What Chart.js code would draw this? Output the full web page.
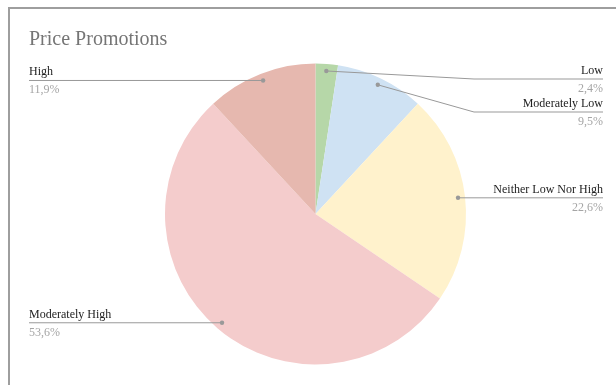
<!DOCTYPE html>
<html>
<head>
<meta charset="utf-8">
<script src="https://cdn.jsdelivr.net/npm/chart.js@4.4.1/dist/chart.umd.min.js"></script>
<style>
  html, body { margin:0; padding:0; background:#fff; overflow:hidden; }
  #wrap { position:relative; width:616px; height:385px; }
  #frame { position:absolute; left:8px; top:7px; width:620px; height:400px; border-left:2px solid #9e9e9e; border-top:2px solid #9e9e9e; pointer-events:none; }
  canvas { position:absolute; left:0; top:0; }
</style>
</head>
<body>
<div id="wrap">
  <canvas id="pie" width="616" height="385"></canvas>
  <div id="frame"></div>
</div>
<script>
// Price promotions share by answer
const title = "Price Promotions";
const categories = ["Low", "Moderately Low", "Neither Low Nor High", "Moderately High", "High"];
const values = [2.4, 9.5, 22.6, 53.6, 11.9];
const colors = ["#b6d7a8", "#cfe2f3", "#fff2cc", "#f4cccc", "#e6b8af"];

const total = values.reduce((a, b) => a + b, 0);
const pct = v => (v / total * 100).toFixed(1).replace(".", ",") + "%";

// Callout labels with leader lines, plus the title
const calloutPlugin = {
  id: "callouts",
  afterDraw(chart) {
    const ctx = chart.ctx;
    const arcs = chart.getDatasetMeta(0).data;
    const leftX = 29, rightX = 603, minY = 79, gap = 33;

    ctx.save();
    ctx.font = "20px 'Liberation Serif', serif";
    ctx.fillStyle = "#757575";
    ctx.textAlign = "left";
    ctx.textBaseline = "alphabetic";
    ctx.fillText(title, 29, 45);

    const items = arcs.map((arc, i) => {
      const mid = (arc.startAngle + arc.endAngle) / 2;
      const r = arc.outerRadius * 0.953;
      return {
        i, cx: arc.x, cy: arc.y, R: arc.outerRadius,
        dx: arc.x + Math.cos(mid) * r,
        dy: arc.y + Math.sin(mid) * r,
        right: Math.cos(mid) >= 0
      };
    });

    [true, false].forEach(side => {
      let prev = -Infinity;
      items.filter(it => it.right === side).sort((a, b) => a.dy - b.dy).forEach(it => {
        it.ly = Math.max(it.dy, minY, prev + gap);
        prev = it.ly;
      });
    });

    items.forEach(it => {
      const elbowX = it.right ? it.cx + it.R + 8 : it.cx - it.R - 8;
      const endX = it.right ? rightX : leftX;
      ctx.strokeStyle = "#999";
      ctx.lineWidth = 1;
      ctx.beginPath();
      ctx.moveTo(it.dx, it.dy);
      ctx.lineTo(elbowX, it.ly);
      ctx.lineTo(endX, it.ly);
      ctx.stroke();
      ctx.fillStyle = "#999";
      ctx.beginPath();
      ctx.arc(it.dx, it.dy, 2.2, 0, Math.PI * 2);
      ctx.fill();

      ctx.textAlign = it.right ? "right" : "left";
      ctx.font = "12px 'Liberation Serif', serif";
      ctx.fillStyle = "#222";
      ctx.fillText(categories[it.i], endX, it.ly - 5);
      ctx.fillStyle = "#a5a5a5";
      ctx.fillText(pct(values[it.i]), endX, it.ly + 13);
    });
    ctx.restore();
  }
};

new Chart(document.getElementById("pie"), {
  type: "pie",
  data: {
    labels: categories,
    datasets: [{ data: values, backgroundColor: colors, borderWidth: 0 }]
  },
  options: {
    responsive: false,
    animation: false,
    layout: { padding: { top: 63, bottom: 20, left: 165, right: 150 } },
    plugins: { legend: { display: false }, tooltip: { enabled: false }, title: { display: false } }
  },
  plugins: [calloutPlugin]
});
</script>
</body>
</html>
